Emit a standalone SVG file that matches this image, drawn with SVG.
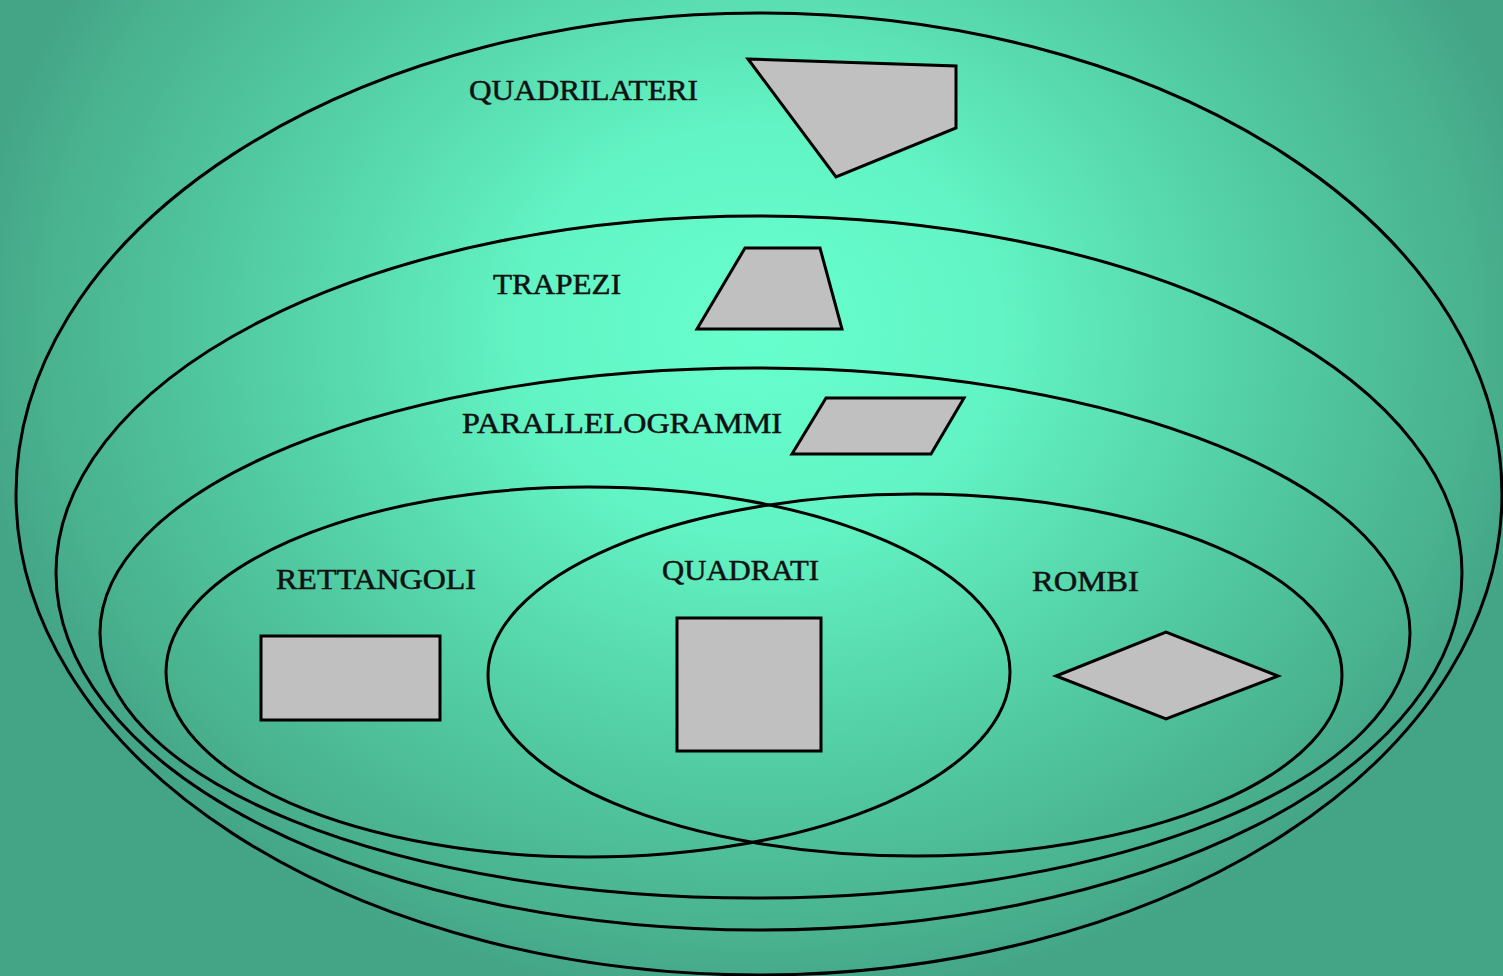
<svg xmlns="http://www.w3.org/2000/svg" width="1503" height="976" viewBox="0 0 1503 976">
<defs>
<radialGradient id="bg" cx="760" cy="330" r="800" gradientUnits="userSpaceOnUse" gradientTransform="translate(760 330) scale(1 0.85) translate(-760 -330)">
<stop offset="0" stop-color="#67FFCD"/>
<stop offset="0.3" stop-color="#62F4C4"/>
<stop offset="0.5" stop-color="#59DCB0"/>
<stop offset="0.7" stop-color="#50C69E"/>
<stop offset="0.9" stop-color="#49B18E"/>
<stop offset="1" stop-color="#43A486"/>
</radialGradient>
</defs>
<style>
.set{fill:none;stroke:#000;stroke-width:3}
.shape{fill:#C0C0C0;stroke:#000;stroke-width:3;stroke-linejoin:miter}
.lbl{font-family:"Liberation Serif","Times New Roman",serif;font-size:29px;fill:#111;stroke:#111;stroke-width:0.5}
</style>
<rect width="1503" height="976" fill="url(#bg)"/>
<g id="quadrilateri">
<ellipse class="set" cx="759" cy="494" rx="743" ry="481"/>
<text class="lbl" x="469" y="100" textLength="229" lengthAdjust="spacingAndGlyphs">QUADRILATERI</text>
<polygon class="shape" points="748,59 956,66 956,128 836,177"/>
</g>
<g id="trapezi">
<ellipse class="set" cx="759" cy="573" rx="703" ry="357"/>
<text class="lbl" x="493" y="294" textLength="128" lengthAdjust="spacingAndGlyphs">TRAPEZI</text>
<polygon class="shape" points="697,329 745,248 820,248 842,329"/>
</g>
<g id="parallelogrammi">
<ellipse class="set" cx="755" cy="633" rx="655" ry="265"/>
<text class="lbl" x="462" y="433" textLength="320" lengthAdjust="spacingAndGlyphs">PARALLELOGRAMMI</text>
<polygon class="shape" points="792,454 826,398 964,398 931,454"/>
</g>
<g id="rettangoli">
<ellipse class="set" cx="588" cy="672" rx="422" ry="185"/>
<text class="lbl" x="276" y="589" textLength="200" lengthAdjust="spacingAndGlyphs">RETTANGOLI</text>
<rect class="shape" x="261" y="636" width="179" height="84"/>
</g>
<g id="rombi">
<ellipse class="set" cx="915" cy="675" rx="427" ry="181"/>
<text class="lbl" x="1032" y="591" textLength="107" lengthAdjust="spacingAndGlyphs">ROMBI</text>
<polygon class="shape" points="1056,676 1166,632 1278,676 1166,719"/>
</g>
<g id="quadrati">
<text class="lbl" x="662" y="580" textLength="157" lengthAdjust="spacingAndGlyphs">QUADRATI</text>
<rect class="shape" x="677" y="618" width="144" height="133"/>
</g>
</svg>
